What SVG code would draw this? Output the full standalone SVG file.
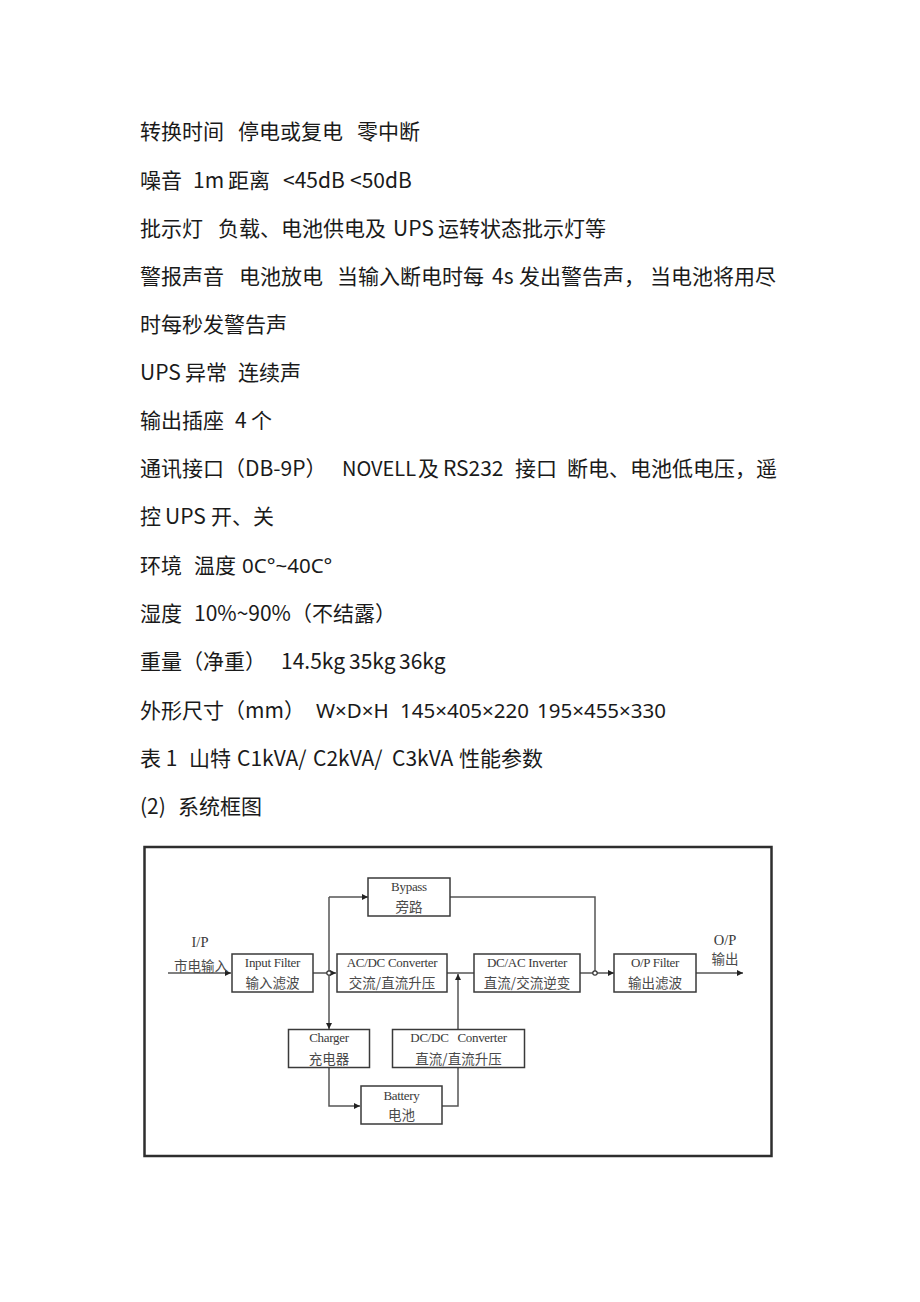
<svg xmlns="http://www.w3.org/2000/svg" width="920" height="1302" viewBox="0 0 920 1302">
<style>
.t{font-family:"Noto Sans CJK SC","Noto Sans",sans-serif;font-size:21px;fill:#1a1a1a}
.lat{font-family:"Noto Sans","Noto Sans CJK SC",sans-serif;font-size:20.5px}
.sm{font-size:20px}
.box{fill:#fff;stroke:#3a3a3a;stroke-width:1.5}
.en{font-family:"Liberation Serif","Noto Sans CJK SC",serif;font-size:13px;fill:#3a3a3a;text-anchor:middle;letter-spacing:-0.3px}
.lb{font-family:"Liberation Serif",serif;font-size:14.5px;fill:#3a3a3a;text-anchor:middle}
.cn{font-family:"Noto Sans CJK SC",sans-serif;font-size:13.5px;fill:#4a4a4a;text-anchor:middle}
.ln{fill:none;stroke:#555;stroke-width:1.5}
.dot{fill:#fff;stroke:#333;stroke-width:1.2}
</style>
<defs>
<marker id="ah" viewBox="0 0 8 8" refX="8" refY="4" markerWidth="6" markerHeight="6" markerUnits="userSpaceOnUse" orient="auto">
<path d="M0,0 L8,4 L0,8 z" fill="#222"/>
</marker>
</defs>
<rect width="920" height="1302" fill="#fff"/>
<g id="text">
<text class="t" y="139"><tspan x="140">转换时间</tspan><tspan x="238">停电或复电</tspan><tspan x="357">零中断</tspan></text>
<text class="t" y="188"><tspan x="140">噪音</tspan><tspan x="193">1m</tspan><tspan x="228">距离</tspan><tspan x="283">&lt;45dB</tspan><tspan x="350">&lt;50dB</tspan></text>
<text class="t" y="236"><tspan x="140">批示灯</tspan><tspan x="218">负载、电池供电及</tspan><tspan x="393">UPS</tspan><tspan x="438">运转状态批示灯等</tspan></text>
<text class="t" y="284"><tspan x="140">警报声音</tspan><tspan x="239">电池放电</tspan><tspan x="337">当输入断电时每</tspan><tspan x="492">4s</tspan><tspan x="519">发出警告声，</tspan><tspan x="650">当电池将用尽</tspan></text>
<text class="t" y="332" x="140">时每秒发警告声</text>
<text class="t" y="380"><tspan x="140">UPS</tspan><tspan x="185">异常</tspan><tspan x="238">连续声</tspan></text>
<text class="t" y="428"><tspan x="140">输出插座</tspan><tspan x="235">4</tspan><tspan x="251">个</tspan></text>
<text class="t" y="476"><tspan x="140">通讯接口（DB-9P）</tspan><tspan x="342" class="sm">NOVELL</tspan><tspan x="418">及</tspan><tspan x="443">RS232</tspan><tspan x="515">接口</tspan><tspan x="567">断电、电池低电压，遥</tspan></text>
<text class="t" y="524"><tspan x="140">控</tspan><tspan x="165">UPS</tspan><tspan x="211">开、关</tspan></text>
<text class="t" y="573"><tspan x="140">环境</tspan><tspan x="194">温度</tspan><tspan x="242" class="lat">0C°~40C°</tspan></text>
<text class="t" y="621"><tspan x="140">湿度</tspan><tspan x="194">10%~90%（不结露）</tspan></text>
<text class="t" y="669"><tspan x="140">重量（净重）</tspan><tspan x="281">14.5kg</tspan><tspan x="349">35kg</tspan><tspan x="399">36kg</tspan></text>
<text class="t" y="718"><tspan x="140">外形尺寸（mm）</tspan><tspan x="316" class="lat">W×D×H</tspan><tspan x="400" class="lat">145×405×220</tspan><tspan x="537" class="lat">195×455×330</tspan></text>
<text class="t" y="766"><tspan x="140">表 1</tspan><tspan x="189">山特</tspan><tspan x="237">C1kVA/</tspan><tspan x="313">C2kVA/</tspan><tspan x="392">C3kVA</tspan><tspan x="459">性能参数</tspan></text>
<text class="t" y="814"><tspan x="140">(2)</tspan><tspan x="178">系统框图</tspan></text>
</g>
<rect id="frame" x="144.5" y="847" width="627" height="309" fill="none" stroke="#2e2e2e" stroke-width="2.5"/>
<g id="connectors">
<path class="ln" d="M168,973 H231" marker-end="url(#ah)"/>
<path class="ln" d="M313,973 H336" marker-end="url(#ah)"/>
<path class="ln" d="M329,897 V1029" marker-end="url(#ah)"/>
<path class="ln" d="M329,897 H368" marker-end="url(#ah)"/>
<path class="ln" d="M450,897 H595 V973"/>
<path class="ln" d="M447,973 H474"/>
<path class="ln" d="M580,973 H614" marker-end="url(#ah)"/>
<path class="ln" d="M696,973 H743" marker-end="url(#ah)"/>
<path class="ln" d="M329,1068 V1106 H360" marker-end="url(#ah)"/>
<path class="ln" d="M442,1106 H458 V1068"/>
<path class="ln" d="M458,1029 V974" marker-end="url(#ah)"/>
<circle class="dot" cx="329" cy="973" r="2.2"/>
<circle class="dot" cx="595" cy="973" r="2.2"/>
</g>
<g id="ip-label">
<text class="lb" x="200" y="947">I/P</text>
<text class="cn" x="201" y="971">市电输入</text>
</g>
<g id="op-label">
<text class="lb" x="725" y="945">O/P</text>
<text class="cn" x="725" y="964">输出</text>
</g>
<g id="bypass">
<rect class="box" x="368" y="878" width="82" height="38"/>
<text class="en" x="409" y="891">Bypass</text>
<text class="cn" x="409" y="912">旁路</text>
</g>
<g id="input-filter">
<rect class="box" x="232" y="954" width="81" height="38"/>
<text class="en" x="272.5" y="967">Input Filter</text>
<text class="cn" x="272.5" y="988">输入滤波</text>
</g>
<g id="acdc">
<rect class="box" x="337" y="954" width="110" height="38"/>
<text class="en" x="392" y="967">AC/DC Converter</text>
<text class="cn" x="392" y="988">交流/直流升压</text>
</g>
<g id="dcac">
<rect class="box" x="474" y="954" width="106" height="38"/>
<text class="en" x="527" y="967">DC/AC Inverter</text>
<text class="cn" x="527" y="988">直流/交流逆变</text>
</g>
<g id="op-filter">
<rect class="box" x="614" y="954" width="82" height="38"/>
<text class="en" x="655" y="967">O/P Filter</text>
<text class="cn" x="655" y="988">输出滤波</text>
</g>
<g id="charger">
<rect class="box" x="288.5" y="1029.5" width="81" height="38"/>
<text class="en" x="329" y="1042">Charger</text>
<text class="cn" x="329" y="1064">充电器</text>
</g>
<g id="dcdc">
<rect class="box" x="392.5" y="1029.5" width="132" height="38"/>
<text class="en" x="458.5" y="1042" xml:space="preserve">DC/DC   Converter</text>
<text class="cn" x="458.5" y="1064">直流/直流升压</text>
</g>
<g id="battery">
<rect class="box" x="361" y="1086" width="81" height="38"/>
<text class="en" x="401.5" y="1100">Battery</text>
<text class="cn" x="401.5" y="1120">电池</text>
</g>
</svg>
